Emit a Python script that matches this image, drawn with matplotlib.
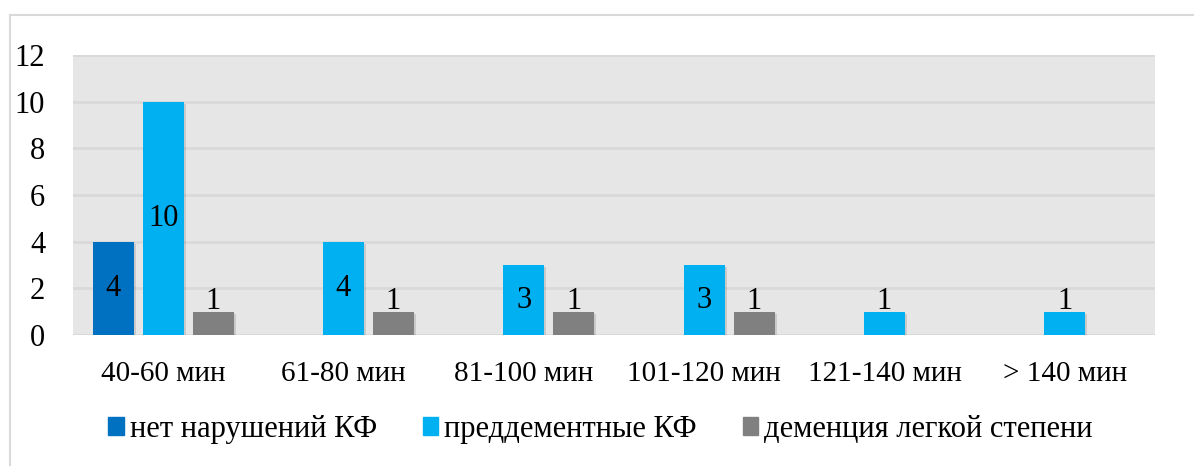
import numpy as np
import matplotlib.pyplot as plt
import matplotlib.patheffects as pe
from matplotlib.lines import Line2D

categories = ['40-60 мин', '61-80 мин', '81-100 мин', '101-120 мин', '121-140 мин', '> 140 мин']
no_impairment = [4, 0, 0, 0, 0, 0]
predementia = [10, 4, 3, 3, 1, 1]
mild_dementia = [1, 1, 1, 1, 0, 0]
series_names = ['нет нарушений КФ', 'преддементные КФ', 'деменция легкой степени']
colors = ['#0070c0', '#00b0f0', '#808080']


def main():
    plt.rcParams['font.family'] = ['Liberation Serif', 'DejaVu Serif']
    fig = plt.figure(figsize=(11.94, 4.66), dpi=100)
    ax = fig.add_axes([73 / 1194, 131 / 466, 1082 / 1194, 280 / 466])

    x = np.arange(len(categories))
    width = 0.227
    step = 0.277
    shadow = [pe.SimplePatchShadow(offset=(1.5, -1.5), shadow_rgbFace='black', alpha=0.12), pe.Normal()]

    handles = []
    for i, (vals, name, col) in enumerate(zip([no_impairment, predementia, mild_dementia], series_names, colors)):
        pos = x + (i - 1) * step
        for p, v in zip(pos, vals):
            if v == 0:
                continue
            b = ax.bar(p, v, width=width, color=col, zorder=3)
            b[0].set_path_effects(shadow)
            ly = v / 2 if v > 1 else 1.45
            ax.text(p, ly, str(v), ha='center', va='center', fontsize=22, color='black', zorder=4)
        handles.append(plt.Rectangle((0, 0), 1, 1, color=col))

    ax.set_xlim(-0.5, len(categories) - 0.5)
    ax.set_ylim(0, 12)
    ax.set_yticks(range(0, 13, 2))
    ax.set_xticks(x)
    ax.set_xticklabels(categories)
    ax.tick_params(axis='y', length=0, labelsize=22, pad=20)
    ax.tick_params(axis='x', length=0, labelsize=21, pad=19)
    ax.set_facecolor('#e7e6e6')
    ax.grid(axis='y', color='#d9d9d9', linewidth=2, zorder=0)
    ax.set_axisbelow(True)
    for s in ax.spines.values():
        s.set_visible(False)
    ax.axhline(0, color='#d9d9d9', linewidth=2, zorder=2)

    fig.legend(handles, series_names, loc='center', bbox_to_anchor=(0.503, 0.079), ncol=3,
               frameon=False, fontsize=22, handlelength=0.5, handleheight=0.5,
               handletextpad=0.2, columnspacing=1.5)

    # outer frame
    fig.add_artist(Line2D([10 / 1194, 1], [1 - 15 / 466, 1 - 15 / 466], color='#d9d9d9', linewidth=1.5))
    fig.add_artist(Line2D([10 / 1194, 10 / 1194], [0, 1 - 15 / 466], color='#d9d9d9', linewidth=1.5))

    fig.savefig('out.png', dpi=100)


if __name__ == "__main__":
    main()
